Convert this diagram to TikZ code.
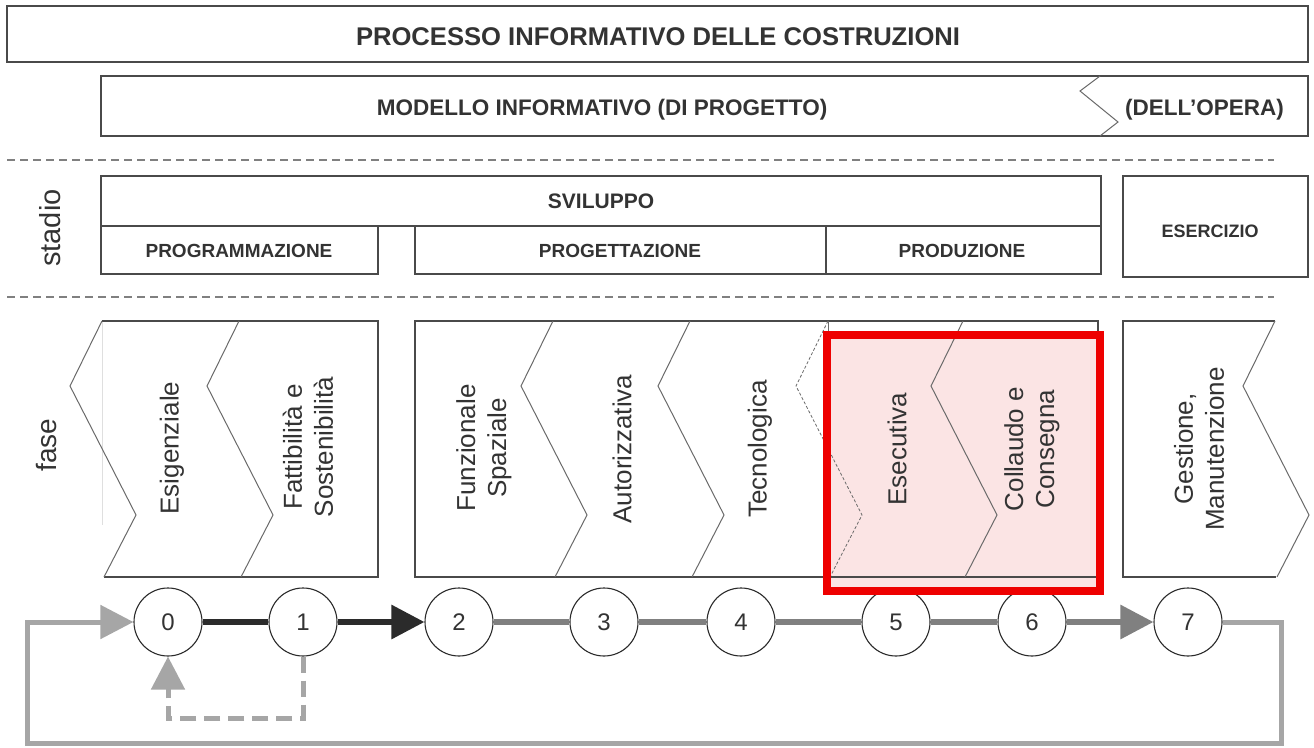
\documentclass[tikz,border=0pt]{standalone}
\usepackage{fontspec}
\setmainfont{Liberation Sans}
\usetikzlibrary{arrows.meta}
\definecolor{txt}{HTML}{333333}
\definecolor{boxc}{HTML}{4A4A4A}
\definecolor{zigc}{HTML}{6A6A6A}
\definecolor{darkc}{HTML}{2B2B2B}
\definecolor{midc}{HTML}{808080}
\definecolor{lightc}{HTML}{A6A6A6}
\definecolor{pinkc}{HTML}{FBE4E4}
\definecolor{redc}{HTML}{EE0000}
\newcommand\zigline[2][]{\draw[zig,#1] (#2,321) -- ++(-32,65) -- ++(66,129) -- ++(-32,62);}
\begin{document}
\begin{tikzpicture}[x=1pt,y=-1pt,
  box/.style={draw=boxc, line width=1.8pt},
  zig/.style={draw=zigc, line width=1pt},
  divider/.style={draw=gray, line width=1.5pt, dash pattern=on 8pt off 5pt},
  ttl/.style={font=\bfseries\fontsize{25.6}{30}\selectfont, text=txt, anchor=base, inner sep=0pt},
  hdr/.style={font=\bfseries\fontsize{22.5}{26}\selectfont, text=txt, anchor=base, inner sep=0pt},
  stg/.style={font=\bfseries\fontsize{19}{23}\selectfont, text=txt, anchor=base, inner sep=0pt},
  phs/.style={font=\fontsize{26}{31}\selectfont, rotate=90, align=center, text=txt, inner sep=0pt},
  side/.style={font=\fontsize{29}{34}\selectfont, rotate=90, text=txt, inner sep=0pt},
  num/.style={circle, draw=darkc, line width=1.1pt, fill=white, minimum size=68pt, inner sep=0pt, font=\fontsize{24}{28}\selectfont, text=txt},
  dk/.style={draw=darkc, line width=6pt},
  md/.style={draw=midc, line width=6pt},
  lt/.style={draw=lightc, line width=5pt},
  tip/.style={-{Triangle[length=33pt,width=33pt]}}
]
\useasboundingbox[fill=white] (0,0) rectangle (1314,747);

% title rows
\draw[box] (7,6) rectangle (1308,62);
\node[ttl] (title) at (658,45) {PROCESSO INFORMATIVO DELLE COSTRUZIONI};
\draw[box] (101,76) rectangle (1308,136);
\draw[zig] (1100,76) -- (1080,91) -- (1118,122) -- (1100,136);
\node[hdr] (modello) at (602,115.5) {MODELLO INFORMATIVO (DI PROGETTO)};
\node[hdr] (opera) at (1204.5,115.5) {(DELL’OPERA)};

\draw[divider] (7,160) -- (1274,160);
\draw[divider] (7,297) -- (1274,297);

% stadio row
\node[side] (stadio) at (50,228) {stadio};
\draw[box] (101,176) rectangle (1101,226);
\node[stg,font=\bfseries\fontsize{21}{25}\selectfont] (sviluppo) at (601,208) {SVILUPPO};
\draw[box] (101,226) rectangle (378,274);
\node[stg] (programmazione) at (239,257) {PROGRAMMAZIONE};
\draw[box] (415,226) rectangle (826,274);
\node[stg] (progettazione) at (620,257) {PROGETTAZIONE};
\draw[box] (826,226) rectangle (1101,274);
\node[stg] (produzione) at (962,257.5) {PRODUZIONE};
\draw[box] (1123,176) rectangle (1308,277);
\node[stg,font=\bfseries\fontsize{18}{22}\selectfont] (esercizio) at (1210,237) {ESERCIZIO};

% highlight fill
\fill[pinkc] (827,335) rectangle (1100,591);

% fase row
\node[side,font=\fontsize{28}{33}\selectfont] (fase) at (47,445) {fase};
\draw[gray!25, line width=1pt] (102,321) -- (102,525);
\draw[box] (102,321) -- (378,321) -- (378,577) -- (104,577);
\zigline{102}
\zigline{239}
\draw[box] (415,321) rectangle (1098,577);
\draw[zig] (828,321) -- (828,577);
\zigline{553}
\zigline{690}
\zigline[dashed, line width=0.8pt, dash pattern=on 3pt off 2pt]{828}
\zigline{963}
\draw[box] (1275,321) -- (1123,321) -- (1123,577) -- (1276,577);
\zigline{1275}

\node[phs] (esig) at (172,448) {Esigenziale};
\node[phs] (fatt) at (308,447) {Fattibilità e\\Sostenibilità};
\node[phs] (funz) at (484,448) {Funzionale\\Spaziale};
\node[phs] (aut) at (622,449) {Autorizzativa};
\node[phs] (tecn) at (760,449) {Tecnologica};
\node[phs] (esec) at (897,449) {Esecutiva};
\node[phs] (coll) at (1032,449) {Collaudo e\\Consegna};
\node[phs] (gest) at (1199,449) {Gestione,\\Manutenzione};

% circles
\node[num] (c0) at (168,622) {0};
\node[num] (c1) at (303,622) {1};
\node[num] (c2) at (459,622) {2};
\node[num] (c3) at (604,622) {3};
\node[num] (c4) at (741,622) {4};
\node[num] (c5) at (896,622) {5};
\node[num] (c6) at (1032,622) {6};
\node[num] (c7) at (1188,622) {7};

\coordinate (lp1) at (1281,743);
\coordinate (lp2) at (27,743);
\coordinate (dp2) at (168,718);

\draw[dk] (c0) -- (c1);
\draw[dk, tip] (c1) -- (c2);
\draw[md] (c2) -- (c3);
\draw[md] (c3) -- (c4);
\draw[md] (c4) -- (c5);
\draw[md] (c5) -- (c6);
\draw[md, tip] (c6) -- (c7);
\draw[lt, tip] (c7.east) -| (lp1) -- (lp2) |- (c0.west);
\draw[lt, tip, dash pattern=on 16pt off 8pt] (c1.south) |- (dp2) -- (c0.south);

% highlight border
\draw[redc, line width=8pt] (827,335) rectangle (1100,591);
\end{tikzpicture}
\end{document}
